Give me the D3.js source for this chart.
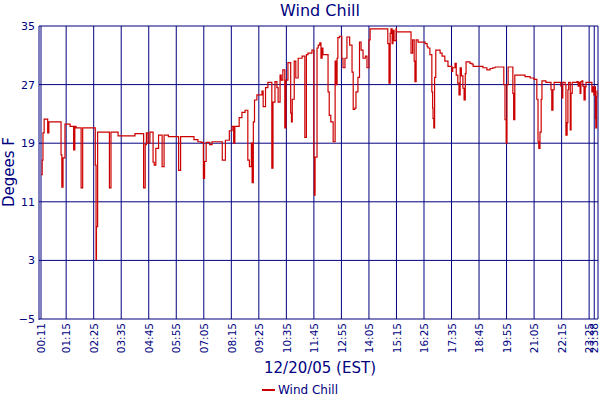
<!DOCTYPE html>
<html><head><meta charset="utf-8">
<script src="https://cdn.jsdelivr.net/npm/d3@7"></script>
<style>body{margin:0;background:#fff}text{font-family:"DejaVu Sans",Verdana,sans-serif}</style>
</head><body><svg id="c" width="600" height="400"></svg>
<script>
// minutes since midnight
const minutes = [11,14,16,19,26,28,31,62,64,67,72,85,94,97,100,113,117,146,149,151,152,155,185,189,207,237,250,268,272,276,279,283,288,296,299,303,310,319,324,335,356,361,366,392,400,410,418,424,427,431,440,446,468,472,480,490,497,501,504,515,522,530,537,541,546,548,551,554,560,573,576,582,588,595,598,601,606,611,614,619,622,626,631,634,639,646,648,650,655,659,665,675,682,686,690,700,705,706,708,713,716,720,723,726,728,741,744,748,754,759,761,764,766,770,776,779,784,789,796,802,805,809,812,817,821,825,830,836,840,845,848,891,893,896,899,901,904,906,909,914,915,944,952,956,960,962,965,970,980,988,993,995,1000,1005,1007,1008,1010,1012,1015,1026,1031,1038,1046,1056,1058,1064,1067,1071,1074,1077,1080,1084,1087,1090,1092,1102,1107,1110,1135,1145,1153,1160,1166,1186,1188,1191,1194,1196,1199,1209,1211,1213,1216,1229,1242,1255,1265,1272,1275,1277,1280,1283,1285,1295,1308,1310,1313,1316,1331,1333,1336,1338,1344,1346,1349,1351,1353,1357,1359,1362,1374,1377,1379,1382,1384,1387,1389,1392,1395,1397,1409,1412,1415,1417,1419,1421,1422,1424,1425];
const windChill = [14.7,16.7,20.4,22.3,22.3,20.4,21.9,17.4,13.0,17.0,21.6,21.3,18.1,21.3,21.1,12.9,21.1,21.1,16.0,3.1,7.6,20.5,12.9,20.5,20.0,20.0,20.3,20.3,12.9,18.8,20.4,19.0,20.5,16.4,16.0,18.3,20.1,15.8,20.1,19.9,19.9,15.3,19.9,19.9,19.5,19.2,19.1,14.2,16.5,19.1,18.8,19.2,19.2,16.7,19.4,20.7,21.3,19.0,21.3,22.5,23.2,23.5,16.7,15.8,19.0,13.6,21.9,24.9,25.6,26.1,24.0,26.6,27.3,27.3,15.6,24.6,27.4,26.6,24.6,28.3,27.6,29.0,21.1,27.6,30.0,23.1,21.9,25.0,30.2,27.9,30.6,30.9,19.8,31.1,31.3,31.7,17.1,11.9,17.1,32.0,32.4,32.7,30.6,32.0,31.1,26.0,22.8,21.9,19.2,30.2,27.0,30.6,33.4,33.6,30.6,29.3,30.6,33.5,32.4,28.7,23.6,23.8,26.0,28.0,32.8,31.7,30.6,30.9,29.3,33.1,34.6,34.6,32.6,27.2,34.0,34.6,32.6,34.4,33.0,34.6,34.2,34.2,31.3,33.1,30.2,27.4,33.1,32.8,32.8,32.6,32.2,32.0,31.1,26.0,23.8,22.4,21.1,28.0,31.7,31.3,30.9,30.2,29.5,28.8,29.3,29.9,28.3,27.2,25.6,29.3,28.2,26.5,24.9,28.5,30.1,29.9,29.8,29.5,29.3,29.0,29.2,29.3,29.4,29.4,27.0,22.2,19.0,27.0,29.4,29.4,25.8,22.2,28.3,28.3,28.1,27.9,27.7,25.0,19.2,18.3,20.5,25.0,27.5,27.3,26.3,23.5,26.3,27.3,27.3,26.8,25.2,27.3,27.0,20.1,21.8,26.3,27.3,20.8,25.8,27.3,27.4,26.8,27.3,25.8,27.4,27.5,26.8,24.9,26.7,27.3,27.3,26.0,26.7,25.6,26.7,22.4,21.1,25.4,26.2];
const xTickMinutes = [11,75,145,215,285,355,425,495,565,635,705,775,845,915,985,1055,1125,1195,1265,1335,1405,1418];
const yTicks = [-5,3,11,19,27,35];

const navy = "#000080", red = "#cc0000";
const svg = d3.select("#c");
const L = 41, R = 597, T = 26, B = 319;
const x = d3.scaleLinear().domain([11, 1425]).range([L, R]);
const y = d3.scaleLinear().domain([-5, 35]).range([B, T]);
const fmt = m => String(Math.floor(m/60)).padStart(2,"0") + ":" + String(m%60 === 58 ? 35 : m%60).padStart(2,"0");

svg.append("g").selectAll("line").data(xTickMinutes).join("line")
  .attr("x1", d => x(d)).attr("x2", d => x(d)).attr("y1", T).attr("y2", B)
  .attr("stroke", navy).attr("stroke-width", 1);
svg.append("g").selectAll("line").data(yTicks).join("line")
  .attr("x1", L-2).attr("x2", 598).attr("y1", d => y(d)).attr("y2", d => y(d))
  .attr("stroke", navy).attr("stroke-width", 1);
svg.append("line").attr("x1", L-2).attr("x2", L-2).attr("y1", T).attr("y2", B+1).attr("stroke", navy);
svg.append("line").attr("x1", 598).attr("x2", 598).attr("y1", T).attr("y2", B).attr("stroke", navy);

const ya = svg.append("g").attr("transform", `translate(${L-2},0)`)
  .call(d3.axisLeft(y).tickValues(yTicks).tickSize(0).tickPadding(4));
ya.select(".domain").remove();
ya.selectAll("text").attr("fill", navy).attr("font-size", 11).attr("font-family", "DejaVu Sans");

const xa = svg.append("g").attr("transform", `translate(0,${B})`)
  .call(d3.axisBottom(x).tickValues(xTickMinutes).tickFormat(fmt).tickSize(0));
xa.select(".domain").remove();
xa.selectAll("text").attr("fill", navy).attr("font-size", 10.5).attr("font-family", "DejaVu Sans Condensed, DejaVu Sans")
  .attr("transform", "rotate(-90)").attr("text-anchor", "end").attr("x", -4).attr("y", 0).attr("dy", "0.35em");

const data = minutes.map((m, i) => [m, windChill[i]]);
svg.append("path").datum(data)
  .attr("d", d3.line().x(d => x(d[0])).y(d => y(d[1])).curve(d3.curveStepAfter))
  .attr("fill", "none").attr("stroke", red).attr("stroke-width", 1.2);

svg.append("text").attr("x", 320).attr("y", 16).attr("text-anchor", "middle")
  .attr("fill", navy).attr("font-size", 16).text("Wind Chill");
svg.append("text").attr("transform", "translate(14,172) rotate(-90)").attr("text-anchor", "middle")
  .attr("fill", navy).attr("font-size", 15).text("Degees F");
svg.append("text").attr("x", 320).attr("y", 373).attr("text-anchor", "middle")
  .attr("fill", navy).attr("font-size", 15).text("12/20/05 (EST)");
svg.append("line").attr("x1", 262).attr("x2", 275).attr("y1", 390).attr("y2", 390)
  .attr("stroke", red).attr("stroke-width", 2);
svg.append("text").attr("x", 278).attr("y", 394).attr("fill", navy).attr("font-size", 12).text("Wind Chill");
</script></body></html>
